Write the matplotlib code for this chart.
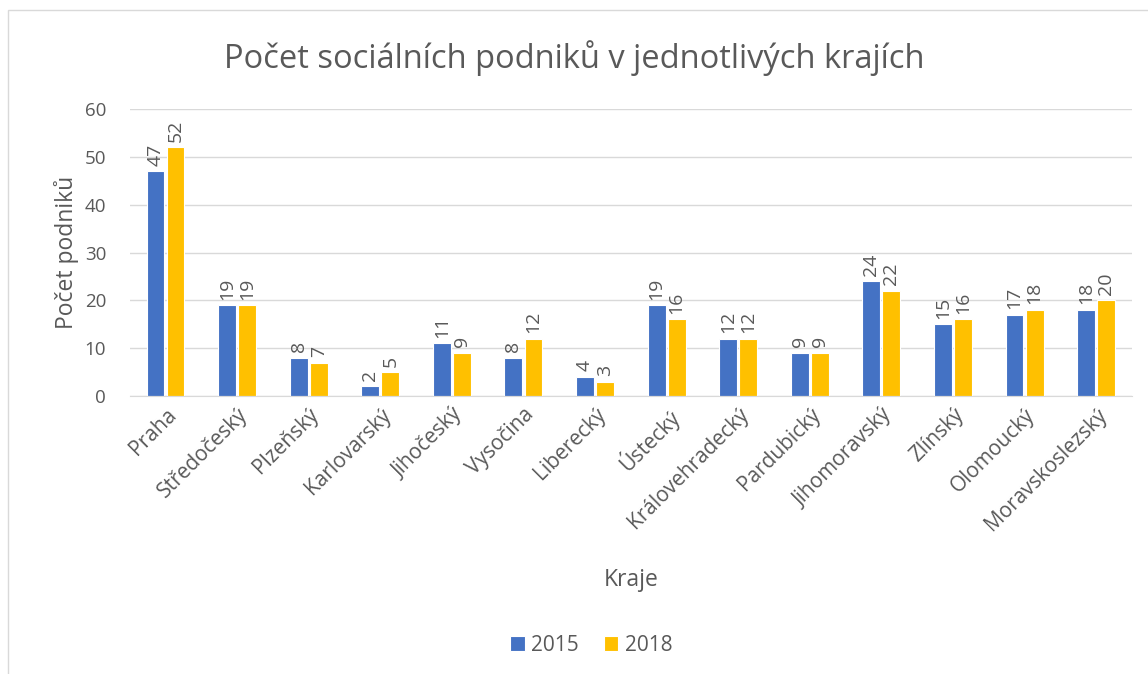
import numpy as np
from matplotlib import pyplot as plt
from matplotlib.patches import Rectangle

kraje = ['Praha', 'Středočeský', 'Plzeňský', 'Karlovarský', 'Jihočeský', 'Vysočina',
         'Liberecký', 'Ústecký', 'Královehradecký', 'Pardubický', 'Jihomoravský',
         'Zlínský', 'Olomoucký', 'Moravskoslezský']
pocet_2015 = [47, 19, 8, 2, 11, 8, 4, 19, 12, 9, 24, 15, 17, 18]
pocet_2018 = [52, 19, 7, 5, 9, 12, 3, 16, 12, 9, 22, 16, 18, 20]
roky = ['2015', '2018']

plt.rcParams['font.family'] = ['Open Sans', 'DejaVu Sans']
text_color = '#595959'
grid_color = '#d9d9d9'

fig = plt.figure(figsize=(11.48, 6.74), dpi=100)
ax = fig.add_axes([0.113, 0.4125, 0.873, 0.4255])

# chart border like in Excel
fig.patches.append(Rectangle((8 / 1148, -0.1), 1.2, 1 - 10 / 674 + 0.1,
                             transform=fig.transFigure, fill=False,
                             edgecolor=grid_color, linewidth=1))

x = np.arange(len(kraje))
w = 0.25
off = 0.14
b1 = ax.bar(x - off, pocet_2015, w, color='#4472C4', edgecolor='white', linewidth=0.8, label=roky[0])
b2 = ax.bar(x + off, pocet_2018, w, color='#FFC000', edgecolor='white', linewidth=0.8, label=roky[1])

for bars in (b1, b2):
    ax.bar_label(bars, rotation=90, padding=4, fontsize=14, color=text_color)

ax.set_xlim(-0.5, len(kraje) - 0.5)
ax.set_ylim(0, 60)
ax.set_yticks(range(0, 61, 10))
ax.yaxis.grid(True, color=grid_color, linewidth=1)
ax.set_axisbelow(True)
for s in ['top', 'right', 'left']:
    ax.spines[s].set_visible(False)
ax.spines['bottom'].set_color(grid_color)
ax.tick_params(axis='both', length=0, labelcolor=text_color)
ax.tick_params(axis='y', pad=17, labelsize=13.5)
ax.tick_params(axis='x', pad=6, labelsize=15)
ax.set_xticks(x)
ax.set_xticklabels(kraje, rotation=45, ha='right', rotation_mode='anchor')

ax.set_xlabel('Kraje', fontsize=16.5, color=text_color, labelpad=24)
ax.set_ylabel('Počet podniků', fontsize=16.5, color=text_color, labelpad=4)
fig.suptitle('Počet sociálních podniků v jednotlivých krajích', fontsize=23.5,
             color=text_color, y=0.94)

fig.legend(handles=[b1, b2], loc='center', bbox_to_anchor=(0.515, 0.043), ncol=2,
           frameon=False, fontsize=15, labelcolor=text_color, handlelength=0.7,
           handleheight=0.7, handletextpad=0.3, columnspacing=1.2)

fig.savefig('out.png')
